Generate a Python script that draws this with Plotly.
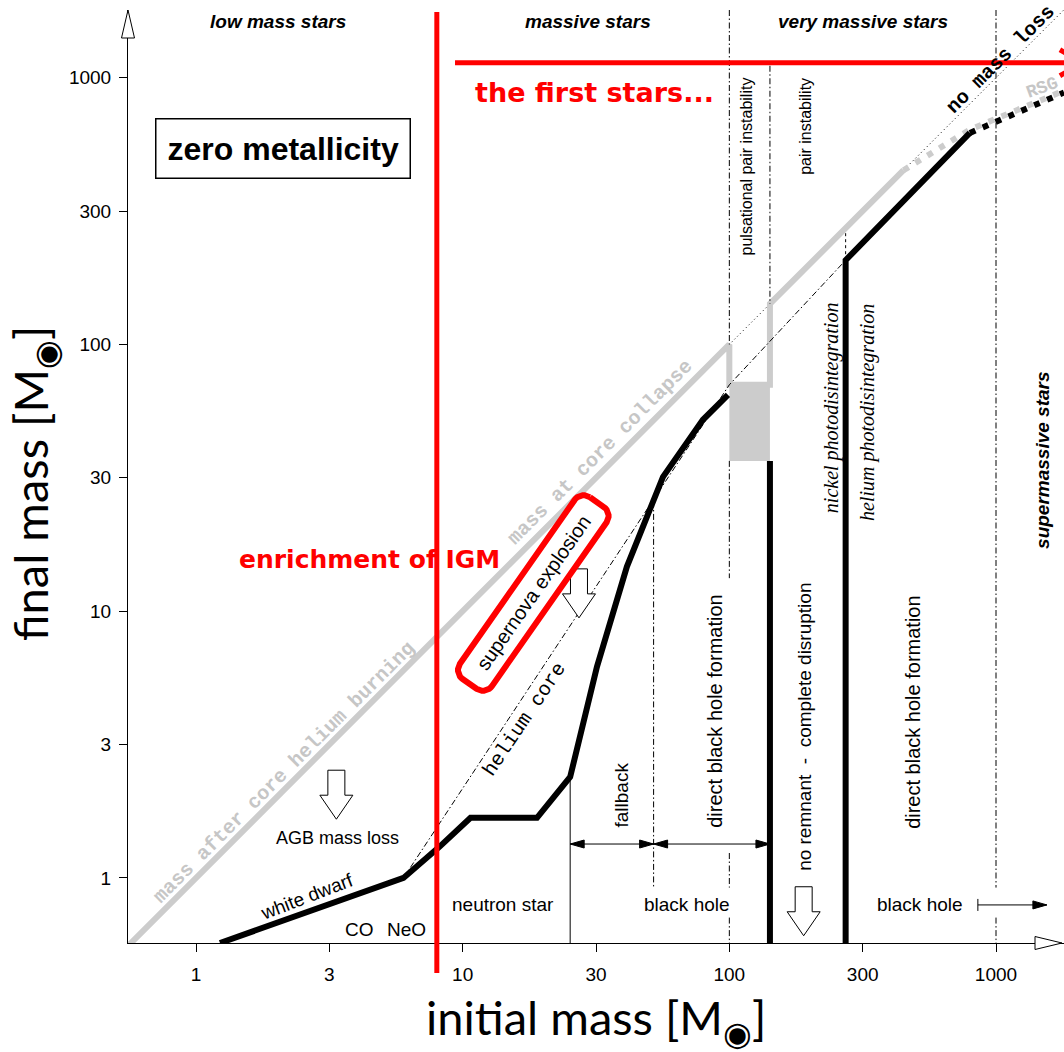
import numpy as np
import plotly.graph_objects as go

# ---------------- canvas / axes ----------------
W, H = 1064, 1052
MARGIN = dict(l=128, r=0, t=10, b=109)
X_RANGE = [-0.255, 3.255]      # log10 initial mass
Y_RANGE = [-0.244, 3.254]      # log10 final mass
PX_X = (W - MARGIN["l"] - MARGIN["r"]) / (X_RANGE[1] - X_RANGE[0])
PX_Y = (H - MARGIN["t"] - MARGIN["b"]) / (Y_RANGE[1] - Y_RANGE[0])
M_MIN = 10 ** Y_RANGE[0]
M_MAX = 10 ** Y_RANGE[1]

tick_vals = [1, 10 ** 0.5, 10, 10 ** 1.5, 100, 10 ** 2.5, 1000]
tick_text = ["1", "3", "10", "30", "100", "300", "1000"]

SANS = "Liberation Sans, Arial, sans-serif"
SERIF = "Liberation Serif, serif"
MONO = "Liberation Mono, Courier New, monospace"
RED_FONT = "DejaVu Sans, Verdana, sans-serif"
TITLE_FONT = "Lato, Open Sans, sans-serif"
GRAY = "#cccccc"
GRAY_TXT = "#c6c6c6"
RED = "#ff0000"

# ---------------- data (solar masses) ----------------
# no-mass-loss reference line (final = initial)
nomass_m = [0.562, 1800]
nomass_M = [0.562, 1800]

# mass after core helium burning / at core collapse
he_burn_m = [0.562, 100, 100, 142, 142, 450]
he_burn_M = [0.562, 100, 70.6, 70.6, 142, 450]
rsg_m = [450, 800, 1850]
rsg_M = [450, 640, 905]

# pulsational pair-instability mass range
ppi_m = [100, 142]
ppi_M = [36.6, 70.6]

# helium core mass
he_core_m = [6.0, 100, 273]
he_core_M = [1.0, 70.6, 207]

# remnant mass
rem_low_m = [1.23, 6.0, 8.2, 10.7, 19.0, 25.3, 31.9, 41.3, 56.4, 79.6, 98.8]
rem_low_M = [M_MIN, 1.0, 1.31, 1.68, 1.68, 2.39, 6.2, 14.7, 31.9, 52.2, 64.7]
rem_pi_edge_m = [142, 142]
rem_pi_edge_M = [36.6, M_MIN]
rem_high_m = [273, 273, 798]
rem_high_M = [M_MIN, 207, 621]
rem_sms_m = [798, 1800]
rem_sms_M = [621, 880]

# regime boundaries (initial mass)
m_fallback = 25.3
m_direct_bh = 52.0
m_ppi = 100.0
m_pi = 142.0
m_phot = 273.0
m_sms = 1000.0
m_ccsn = 8.0          # lower limit for core-collapse supernovae
m_first_stars = [9.36, 2100]
M_first_stars = 1138
M_span_arrows = 1.34
M_bh_arrow = 0.792
bh_arrow_m = [855, 1552]

fig = go.Figure()


def line(xs, ys, color="black", width=1, dash=None):
    fig.add_trace(go.Scatter(x=xs, y=ys, mode="lines", hoverinfo="skip",
                             line=dict(color=color, width=width, dash=dash)))


def offsets(m0, M0, pts_up):
    """Pixel offsets (dx right, dy up) from a data anchor -> data coordinates."""
    lx0, ly0 = np.log10(m0), np.log10(M0)
    xs = [10 ** (lx0 + dx / PX_X) for dx, dy in pts_up]
    ys = [10 ** (ly0 + dy / PX_Y) for dx, dy in pts_up]
    return xs, ys


def poly(m0, M0, pts_up, fill="black", edge="black", width=1):
    xs, ys = offsets(m0, M0, pts_up)
    fig.add_trace(go.Scatter(x=xs, y=ys, mode="lines", fill="toself",
                             fillcolor=fill, hoverinfo="skip",
                             line=dict(color=edge, width=width)))


def head(m0, M0, direction, length=14, half=4, color="black"):
    s = 1 if direction == "right" else -1
    poly(m0, M0, [(0, 0), (-s * length, half), (-s * length, -half), (0, 0)],
         fill=color, edge=color, width=1)


def block_arrow(m0, M0):
    pts = [(0, 0), (16.5, 24), (8.5, 24), (8.5, 49), (-8.5, 49),
           (-8.5, 24), (-16.5, 24), (0, 0)]
    poly(m0, M0, pts, fill="white", edge="black", width=1)


DASHDOT = "6px,2.5px,1.5px,2.5px"

# reference line and helium-burning mass
line(nomass_m, nomass_M, width=1, dash="1px,3px")
fig.add_trace(go.Scatter(x=[ppi_m[0], ppi_m[1], ppi_m[1], ppi_m[0], ppi_m[0]],
                         y=[ppi_M[0], ppi_M[0], ppi_M[1], ppi_M[1], ppi_M[0]],
                         mode="lines", fill="toself", fillcolor=GRAY,
                         line=dict(color=GRAY, width=0), hoverinfo="skip"))
line(he_burn_m, he_burn_M, color=GRAY, width=6)
line(rsg_m, rsg_M, color=GRAY, width=6, dash="6px,8px")

# helium core
line(he_core_m, he_core_M, width=1, dash=DASHDOT)

# regime boundaries
line([m_fallback, m_fallback], [2.39, M_MIN], width=1)
line([m_direct_bh, m_direct_bh], [25.8, 0.92], width=1, dash=DASHDOT)
for seg in ([M_MAX, 100], [36.6, 13.3], [1.24, 0.92], [0.71, M_MIN]):
    line([m_ppi, m_ppi], seg, width=1, dash=DASHDOT)
line([m_pi, m_pi], [1109, 142], width=1, dash=DASHDOT)
for seg in ([M_MAX, 0.92], [0.71, M_MIN]):
    line([m_sms, m_sms], seg, width=1, dash=DASHDOT)
line([m_phot, m_phot], [207, 262], width=1, dash="3px,3px")

# remnant mass
line(rem_low_m, rem_low_M, width=6)
line(rem_pi_edge_m, rem_pi_edge_M, width=6)
line(rem_high_m, rem_high_M, width=6)
line(rem_sms_m, rem_sms_M, width=6, dash="6px,8px")

# span arrows at the bottom
line([m_fallback, m_direct_bh], [M_span_arrows] * 2)
line([m_direct_bh, m_pi], [M_span_arrows] * 2)
head(m_fallback, M_span_arrows, "left")
head(m_direct_bh, M_span_arrows, "right")
head(m_direct_bh, M_span_arrows, "left")
head(m_pi, M_span_arrows, "right")
line(bh_arrow_m, [M_bh_arrow] * 2)
bx, by = offsets(bh_arrow_m[0], M_bh_arrow, [(0, -6), (0, 6)])
line(bx, by)
head(bh_arrow_m[1], M_bh_arrow, "right")

# hollow "mass loss / disruption" arrows
block_arrow(3.36, 1.66)
block_arrow(27.3, 9.44)
block_arrow(190, 0.607)

# first-stars arrow along the top (open chevron head)
line(m_first_stars, [M_first_stars] * 2, color=RED, width=5)
cx, cy = offsets(m_first_stars[1], M_first_stars, [(-22, 13), (0, 0), (-22, -13)])
line(cx, cy, color=RED, width=5)

# rounded box around "supernova explosion"
box_m, box_M = 18.4, 11.7
L_, Wd, R, ang = 222, 39, 11, np.radians(55)
hl, hw = L_ / 2 - R, Wd / 2 - R
pts = []
for ux, vy, a0 in [(hl, hw, 0), (-hl, hw, 90), (-hl, -hw, 180), (hl, -hw, 270)]:
    for t in np.radians(np.linspace(a0, a0 + 90, 10)):
        pts.append((ux + R * np.cos(t), vy + R * np.sin(t)))
pts.append(pts[0])
pts_rot = [(u * np.cos(ang) - v * np.sin(ang), u * np.sin(ang) + v * np.cos(ang)) for u, v in pts]
poly(box_m, box_M, pts_rot, fill="white", edge=RED, width=6)

# ---------------- text ----------------
ann = []


def label(text, m, M, size=19, color="black", family=SANS, angle=0,
          weight="normal", style="normal", **kw):
    ann.append(dict(text=text, x=float(np.log10(m)), y=float(np.log10(M)),
                    xref="x", yref="y", showarrow=False, textangle=angle,
                    font=dict(size=size, color=color, family=family,
                              weight=weight, style=style), **kw))


label("low mass stars", 2.03, 1622, weight="bold", style="italic")
label("massive stars", 29.5, 1622, weight="bold", style="italic")
label("very massive stars", 317, 1622, weight="bold", style="italic")
label("zero metallicity", 2.12, 541, size=32, weight="bold",
      bordercolor="black", borderwidth=1.5, borderpad=11, bgcolor="white")
label("the first stars...", 31.3, 877, size=27, color=RED, family=RED_FONT, weight="bold")
label("enrichment of IGM", 4.49, 15.6, size=25, color=RED, family=RED_FONT, weight="bold")
label("pulsational pair instability", 116, 463, size=16, angle=-90)
label("pair instability", 194, 655, size=16, angle=-90)
label("nickel photodisintegration", 243, 57.8, size=20, family=SERIF, style="italic", angle=-90)
label("helium photodisintegration", 328, 55.8, size=20, family=SERIF, style="italic", angle=-90)
label("supermassive stars", 1500, 36.9, weight="bold", style="italic", angle=-90)
label("AGB mass loss", 3.38, 1.41, size=18)
label("white dwarf", 2.61, 0.849, angle=-21)
label("CO", 4.12, 0.638)
label("NeO", 6.18, 0.638)
label("neutron star", 14.2, 0.792)
label("black hole", 69.3, 0.792)
label("black hole", 519, 0.792)
label("fallback", 39.5, 2.05, angle=-90)
label("direct black hole formation", 88.3, 4.23, size=20, angle=-90)
label("no remnant\u00a0\u00a0-\u00a0\u00a0complete disruption", 192, 3.68, size=19, angle=-90)
label("direct black hole formation", 488, 4.19, size=20, angle=-90)
label("supernova explosion", 18.4, 11.7, size=20, angle=-55)
label("helium core", 17.1, 3.91, size=20, family=MONO, angle=-56)
label("mass at core collapse", 32.7, 39.5, size=20, family=MONO, color=GRAY_TXT,
      weight="bold", angle=-45)
label("mass after core helium burning", 2.14, 2.49, size=20, family=MONO,
      color=GRAY_TXT, weight="bold", angle=-45)
label("no mass loss", 1042, 1167, size=20, family=MONO, weight="bold", angle=-45)
label("RSG", 1486, 916, size=18, family=MONO, color=GRAY_TXT, weight="bold", angle=-20)

# axis titles
ann.append(dict(text="initial mass [M<sub>\u25c9</sub>]", x=0.5, y=-0.083,
                xref="paper", yref="paper", showarrow=False, yanchor="middle",
                font=dict(size=47, family=TITLE_FONT, color="black")))
ann.append(dict(text="final mass [M<sub>\u25c9</sub>]", x=-0.137, y=0.493,
                xref="paper", yref="paper", showarrow=False, textangle=-90,
                font=dict(size=47, family=TITLE_FONT, color="black")))

# ---------------- shapes (paper coordinates) ----------------
def xpaper(m):
    return (np.log10(m) - X_RANGE[0]) / (X_RANGE[1] - X_RANGE[0])


pw = W - MARGIN["l"] - MARGIN["r"]
ph = H - MARGIN["t"] - MARGIN["b"]
shapes = [
    # CCSN lower mass limit
    dict(type="line", xref="paper", yref="paper", x0=xpaper(m_ccsn), x1=xpaper(m_ccsn),
         y0=-30 / ph, y1=1 - 2 / ph, line=dict(color=RED, width=5), layer="above"),
    # y-axis arrow
    dict(type="path", xref="paper", yref="paper", layer="above",
         path=f"M {-6.5 / pw} {1 - 28 / ph} L {6.5 / pw} {1 - 28 / ph} L 0 1 Z",
         fillcolor="white", line=dict(color="black", width=1)),
    # x-axis arrow
    dict(type="path", xref="paper", yref="paper", layer="above",
         path=f"M {1 - 29 / pw} {-6.5 / ph} L {1 - 29 / pw} {6.5 / ph} L {1 - 2 / pw} 0 Z",
         fillcolor="white", line=dict(color="black", width=1)),
]

axis_common = dict(type="log", showgrid=False, zeroline=False, showline=True,
                   linecolor="black", linewidth=1, ticks="outside", ticklen=8,
                   tickwidth=1, tickcolor="black", tickvals=tick_vals,
                   ticktext=tick_text, tickfont=dict(size=19, family=SANS, color="black"))

fig.update_layout(
    width=W, height=H, margin=MARGIN, showlegend=False,
    plot_bgcolor="white", paper_bgcolor="white",
    xaxis=dict(range=X_RANGE, ticklabelstandoff=6, **axis_common),
    yaxis=dict(range=Y_RANGE, ticklabelstandoff=4, **axis_common),
    annotations=ann, shapes=shapes,
)

fig.write_html("out.html")
